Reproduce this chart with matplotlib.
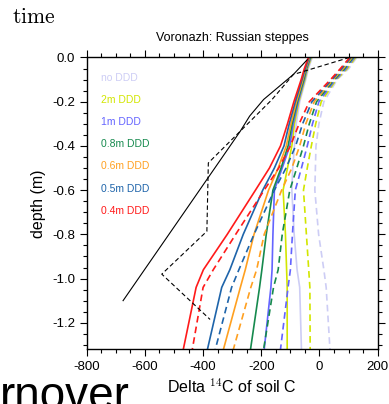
import matplotlib
matplotlib.use("Agg")
import matplotlib.pyplot as plt
from matplotlib.ticker import MultipleLocator

plt.rcParams['font.family'] = ['Liberation Sans', 'DejaVu Sans']
plt.rcParams['mathtext.fontset'] = 'cm'

# ---- data ----
depth = [0.0, 0.05, 0.1, 0.2, 0.3, 0.4, 0.5, 0.6, 0.8, 0.96, 1.04, 1.32]

labels = ["no DDD", "2m DDD", "1m DDD", "0.8m DDD", "0.6m DDD", "0.5m DDD", "0.4m DDD"]
colors = ["#cdcdf5", "#d2e600", "#6464ff", "#168a4e", "#ffa020", "#1e64aa", "#ff1a1a"]

solid_nodd = [-25, -38, -47, -68, -80, -86, -92, -95, -87, -77, -68, -62]
solid_2m   = [-28, -41, -50, -71, -86, -95, -110, -125, -117, -113, -111, -111]
solid_1m   = [-30, -43, -52, -73, -90, -102, -128, -155, -160, -163, -167, -190]
solid_08m  = [-32, -45, -54, -76, -94, -108, -132, -160, -183, -198, -206, -237]
solid_06m  = [-34, -47, -57, -79, -98, -114, -142, -175, -225, -255, -272, -330]
solid_05m  = [-36, -49, -60, -83, -104, -122, -155, -195, -262, -308, -336, -385]
solid_04m  = [-38, -52, -63, -88, -110, -134, -172, -220, -317, -399, -424, -468]

dash_nodd = [128, 101, 61, 15, -2, -12, -14, -16, -3, 15, 23, 36]
dash_2m   = [124, 96, 58, 6, -13, -28, -42, -55, -45, -37, -33, -32]
dash_1m   = [120, 92, 55, -2, -24, -42, -62, -83, -93, -100, -108, -134]
dash_08m  = [116, 87, 51, -10, -35, -55, -78, -102, -128, -142, -158, -192]
dash_06m  = [112, 82, 47, -18, -47, -68, -95, -130, -190, -216, -236, -296]
dash_05m  = [108, 77, 43, -26, -58, -82, -115, -155, -225, -277, -302, -358]
dash_04m  = [104, 72, 38, -35, -70, -100, -140, -190, -288, -365, -400, -437]

solids = [solid_nodd, solid_2m, solid_1m, solid_08m, solid_06m, solid_05m, solid_04m]
dashes = [dash_nodd, dash_2m, dash_1m, dash_08m, dash_06m, dash_05m, dash_04m]

obs_solid_depth = [0.01, 0.077, 0.19, 0.265, 0.333, 1.10]
obs_solid_val   = [-42, -90, -192, -240, -272, -675]
obs_dash_depth  = [0.0, 0.077, 0.19, 0.333, 0.477, 0.786, 0.98, 1.185]
obs_dash_val    = [103, -90, -163, -272, -382, -387, -542, -376]

# ---- figure ----
fig = plt.figure(figsize=(3.89, 4.04), dpi=100)
ax = fig.add_axes([0.2229, 0.1354, 0.9709 - 0.2229, 0.8577 - 0.1354])

for s, d, c in zip(solids, dashes, colors):
    ax.plot(s, [-v for v in depth], color=c, lw=1.2)
    ax.plot(d, [-v for v in depth], color=c, lw=1.2, dashes=(4, 2.5))

ax.plot(obs_solid_val, [-v for v in obs_solid_depth], color='black', lw=0.8)
ax.plot(obs_dash_val, [-v for v in obs_dash_depth], color='black', lw=0.8, dashes=(4, 2.5))

ax.set_xlim(-800, 200)
ax.set_ylim(-1.32, 0)
ax.xaxis.set_major_locator(MultipleLocator(200))
ax.xaxis.set_minor_locator(MultipleLocator(50))
ax.yaxis.set_major_locator(MultipleLocator(0.2))
ax.yaxis.set_minor_locator(MultipleLocator(0.05))
ax.yaxis.set_major_formatter(plt.FuncFormatter(lambda v, p: "%.1f" % v if abs(v) > 1e-9 else "0.0"))
ax.xaxis.set_major_formatter(plt.FuncFormatter(lambda v, p: "%d" % v))
ax.tick_params(which='both', direction='out', top=True, right=True, labelsize=9.5, width=0.8)
ax.tick_params(which='major', length=5)
ax.tick_params(which='minor', length=3)
for sp in ax.spines.values():
    sp.set_linewidth(1.0)

ax.set_xlabel(r"Delta $^{14}$C of soil C", fontsize=11.5, labelpad=3)
ax.set_ylabel("depth (m)", fontsize=11.5, labelpad=4)
ax.set_title("Voronazh: Russian steppes", fontsize=9, pad=12)

# legend as coloured text
leg_y0 = 0.93
for i, (lab, c) in enumerate(zip(labels, colors)):
    ax.text(0.05, leg_y0 - i * 0.0758, lab, color=c, fontsize=7.5,
            transform=ax.transAxes, va='center', ha='left')

fig.text(0.032, 0.943, r"$\mathrm{time}$", fontsize=15.5, ha='left', va='baseline')
fig.text(0.0, -0.012, "rnover", fontsize=33, ha='left', va='baseline')

fig.savefig("out.png", dpi=100)
